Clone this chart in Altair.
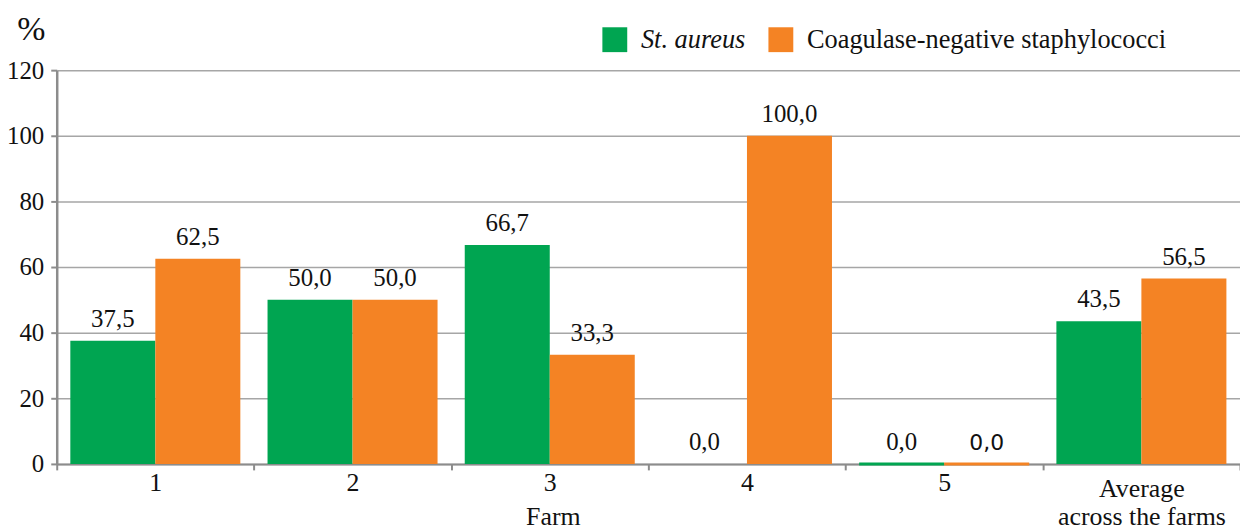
import altair as alt
import pandas as pd

farms = ["1", "2", "3", "4", "5", "Average\nacross the farms"]
st_aureus = [37.5, 50.0, 66.7, 0.0, 0.0, 43.5]
cns = [62.5, 50.0, 33.3, 100.0, 0.0, 56.5]
series = ["St. aureus", "Coagulase-negative staphylococci"]
colors = ["#00A551", "#F48324"]

rows = []
for f, a, c in zip(farms, st_aureus, cns):
    rows.append({"farm": f, "series": series[0], "value": a})
    rows.append({"farm": f, "series": series[1], "value": c})
df = pd.DataFrame(rows)

FONT = "Liberation Serif"
AXIS_GRAY = "#8c8c8c"

x = alt.X(
    "farm:N",
    sort=farms,
    scale=alt.Scale(paddingInner=0, paddingOuter=0),
    axis=alt.Axis(
        title="Farm",
        titleFont=FONT,
        titleFontSize=26,
        titleFontWeight="normal",
        titleColor="#111",
        titleX=499,
        titleY=40,
        titleBaseline="top",
        titleAlign="center",
        labelFont=FONT,
        labelFontSize=26,
        labelColor="#111",
        labelPadding={"condition": {"test": "indexof(datum.label, 'Average') == 0", "value": 6}, "value": 0},
        labelAngle=0,
        labelLineHeight=28,
        labelExpr="split(datum.label, '\\n')",
        tickBand="extent",
        tickSize=6,
        tickWidth=2,
        tickColor=AXIS_GRAY,
        domainColor=AXIS_GRAY,
        domainWidth=2,
        grid=False,
    ),
)
xoff = alt.XOffset("series:N", sort=series, scale=alt.Scale(paddingOuter=0.16, paddingInner=0))

y = alt.Y(
    "value:Q",
    scale=alt.Scale(domain=[0, 120], nice=False),
    axis=alt.Axis(
        values=[0, 20, 40, 60, 80, 100, 120],
        title="%",
        titleAngle=0,
        titleFont=FONT,
        titleFontSize=34,
        titleFontWeight="normal",
        titleColor="#111",
        titleX=-26,
        titleY=-31,
        titleAlign="center",
        titleBaseline="alphabetic",
        labelFont=FONT,
        labelFontSize=25,
        labelColor="#111",
        labelPadding=7,
        tickSize=6,
        tickWidth=2,
        tickColor=AXIS_GRAY,
        domainColor=AXIS_GRAY,
        domainWidth=2.5,
        grid=True,
        gridColor="#a6a6a6",
        gridWidth=1.5,
    ),
)

color = alt.Color(
    "series:N",
    sort=series,
    scale=alt.Scale(domain=series, range=colors),
    legend=alt.Legend(
        title=None,
        orient="none",
        legendX=548,
        legendY=-44,
        direction="horizontal",
        symbolType="square",
        symbolSize=625,
        symbolStrokeWidth=0,
        labelFont=FONT,
        labelFontSize=26.5,
        labelColor="#111",
        labelLimit=0,
        labelFontStyle={"expr": "datum.value == 'St. aureus' ? 'italic' : 'normal'"},
        columnPadding=22,
        labelOffset=13,
    ),
)

base = alt.Chart(df)

bars = base.mark_bar().encode(
    x=x,
    xOffset=xoff,
    y=y,
    color=color,
    stroke=alt.condition(
        "datum.farm == '5'",
        alt.Color("series:N", sort=series, scale=alt.Scale(domain=series, range=colors), legend=None),
        alt.value(None),
    ),
    strokeWidth=alt.condition("datum.farm == '5'", alt.value(3), alt.value(0)),
)

text_serif = base.transform_filter(
    "!(datum.farm == '5' && datum.series != 'St. aureus')"
).transform_calculate(
    lbl="replace(format(datum.value, '.1f'), '.', ',')"
).mark_text(font=FONT, fontSize=25, dy=-14, baseline="alphabetic", color="#111").encode(
    x=alt.X("farm:N", sort=farms),
    xOffset=alt.XOffset("series:N", sort=series),
    y="value:Q",
    text="lbl:N",
)

text_sans = base.transform_filter(
    "datum.farm == '5' && datum.series != 'St. aureus'"
).transform_calculate(
    lbl="replace(format(datum.value, '.1f'), '.', ',')"
).mark_text(font="DejaVu Sans", fontSize=22, dy=-14, baseline="alphabetic", color="#111").encode(
    x=alt.X("farm:N", sort=farms),
    xOffset=alt.XOffset("series:N", sort=series),
    y="value:Q",
    text="lbl:N",
)

chart = (
    alt.layer(bars, text_serif, text_sans)
    .properties(
        width=1190,
        height=396,
        autosize=alt.AutoSizeParams(type="none"),
        padding={"left": 49, "top": 61, "right": 0, "bottom": 74},
    )
    .configure_view(stroke=None)
)

chart.save("out.html", embed_options={"renderer": "svg", "actions": False})
